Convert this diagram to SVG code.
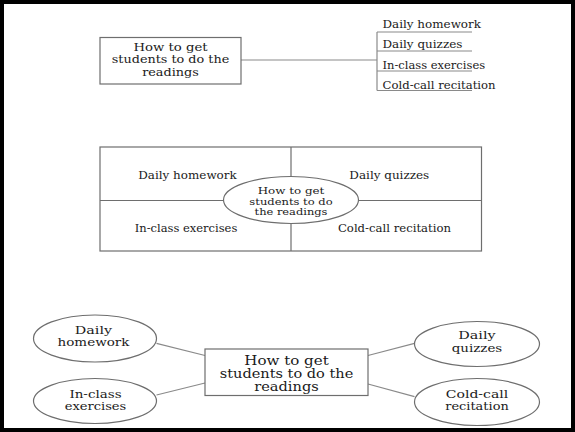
<svg xmlns="http://www.w3.org/2000/svg" width="575" height="432" viewBox="0 0 575 432">
<style>
.t{font-family:"DejaVu Serif","Liberation Serif",serif;fill:#1a1a1a;}
.m{text-anchor:middle;}
.s{fill:#fff;stroke:#6e6e6e;stroke-width:1.2;}
.ln{stroke:#8a8a8a;stroke-width:1.2;fill:none;}
.f13{font-size:11px;}
.fe{font-size:11px;}
.f115{font-size:10.5px;}
.fc{font-size:9.5px;}
.f15{font-size:12px;}
</style>
<rect x="2" y="2" width="571" height="428" fill="#fff" stroke="#000" stroke-width="4"/>

<!-- Section 1: tree -->
<g id="connectors1">
  <line class="ln" x1="241" y1="60" x2="377" y2="60"/>
  <line class="ln" x1="377" y1="32" x2="377" y2="90.5"/>
  <line class="ln" x1="377" y1="32" x2="472" y2="32"/>
  <line class="ln" x1="377" y1="51" x2="472" y2="51"/>
  <line class="ln" x1="377" y1="71" x2="472" y2="71"/>
  <line class="ln" x1="377" y1="90.5" x2="472" y2="90.5"/>
</g>
<g id="top-main">
  <rect class="s" x="100" y="37.5" width="141" height="46.5"/>
  <text class="t m f13" x="170.5" y="50.5" textLength="74.2" lengthAdjust="spacingAndGlyphs">How to get</text>
  <text class="t m f13" x="170.5" y="63" textLength="117.4" lengthAdjust="spacingAndGlyphs">students to do the</text>
  <text class="t m f13" x="170.5" y="75.5" textLength="56.6" lengthAdjust="spacingAndGlyphs">readings</text>
</g>
<g id="top-homework"><text class="t f115" x="382.5" y="27.5" textLength="98.5" lengthAdjust="spacingAndGlyphs">Daily homework</text></g>
<g id="top-quizzes"><text class="t f115" x="382.5" y="48" textLength="79.9" lengthAdjust="spacingAndGlyphs">Daily quizzes</text></g>
<g id="top-exercises"><text class="t f115" x="382.5" y="68.5" textLength="102.6" lengthAdjust="spacingAndGlyphs">In-class exercises</text></g>
<g id="top-recitation"><text class="t f115" x="382.5" y="89" textLength="113.1" lengthAdjust="spacingAndGlyphs">Cold-call recitation</text></g>

<!-- Section 2: quadrants -->
<g id="quad-frame">
  <rect x="100" y="147" width="381.5" height="104" fill="none" stroke="#6e6e6e" stroke-width="1.2"/>
  <line class="ln" x1="291" y1="147" x2="291" y2="251" style="stroke:#6e6e6e"/>
  <line class="ln" x1="100" y1="200.5" x2="481.5" y2="200.5" style="stroke:#6e6e6e"/>
</g>
<g id="quad-center">
  <ellipse class="s" cx="291" cy="200" rx="67.5" ry="23.5"/>
  <text class="t m fc" x="291" y="194" textLength="66.7" lengthAdjust="spacingAndGlyphs">How to get</text>
  <text class="t m fc" x="291" y="204.5" textLength="83.3" lengthAdjust="spacingAndGlyphs">students to do</text>
  <text class="t m fc" x="291" y="215" textLength="72.9" lengthAdjust="spacingAndGlyphs">the readings</text>
</g>
<g id="quad-homework"><text class="t m f115" x="187.5" y="178.5" textLength="98.5" lengthAdjust="spacingAndGlyphs">Daily homework</text></g>
<g id="quad-quizzes"><text class="t m f115" x="389.3" y="178.5" textLength="79.9" lengthAdjust="spacingAndGlyphs">Daily quizzes</text></g>
<g id="quad-exercises"><text class="t m f115" x="186" y="232" textLength="102.6" lengthAdjust="spacingAndGlyphs">In-class exercises</text></g>
<g id="quad-recitation"><text class="t m f115" x="394.5" y="232" textLength="113.1" lengthAdjust="spacingAndGlyphs">Cold-call recitation</text></g>

<!-- Section 3: spider -->
<g id="connectors3">
  <line class="ln" x1="156.5" y1="343.3" x2="205" y2="355.5"/>
  <line class="ln" x1="156.5" y1="395" x2="205" y2="383"/>
  <line class="ln" x1="368" y1="355.5" x2="414.5" y2="343.3"/>
  <line class="ln" x1="368" y1="384" x2="414.5" y2="396.7"/>
</g>
<g id="bottom-main">
  <rect class="s" x="205" y="349" width="163" height="46.5"/>
  <text class="t m f15" x="286.5" y="364.5" textLength="84.4" lengthAdjust="spacingAndGlyphs">How to get</text>
  <text class="t m f15" x="286.5" y="377.5" textLength="133.5" lengthAdjust="spacingAndGlyphs">students to do the</text>
  <text class="t m f15" x="286.5" y="390.5" textLength="64.4" lengthAdjust="spacingAndGlyphs">readings</text>
</g>
<g id="bottom-homework">
  <ellipse class="s" cx="95" cy="338.5" rx="61.5" ry="23.5"/>
  <text class="t m fe" x="93.5" y="334" textLength="37.3" lengthAdjust="spacingAndGlyphs">Daily</text>
  <text class="t m fe" x="93.5" y="346" textLength="71.9" lengthAdjust="spacingAndGlyphs">homework</text>
</g>
<g id="bottom-exercises">
  <ellipse class="s" cx="95" cy="401" rx="61.5" ry="22.5"/>
  <text class="t m fe" x="95.5" y="397.5" textLength="52.2" lengthAdjust="spacingAndGlyphs">In-class</text>
  <text class="t m fe" x="95.5" y="410" textLength="61.6" lengthAdjust="spacingAndGlyphs">exercises</text>
</g>
<g id="bottom-quizzes">
  <ellipse class="s" cx="477" cy="344" rx="62.5" ry="22.5"/>
  <text class="t m fe" x="477" y="339" textLength="37.3" lengthAdjust="spacingAndGlyphs">Daily</text>
  <text class="t m fe" x="477" y="351.5" textLength="50.4" lengthAdjust="spacingAndGlyphs">quizzes</text>
</g>
<g id="bottom-recitation">
  <ellipse class="s" cx="477" cy="402" rx="62.5" ry="23.5"/>
  <text class="t m fe" x="477" y="397.5" textLength="62.5" lengthAdjust="spacingAndGlyphs">Cold-call</text>
  <text class="t m fe" x="477" y="410" textLength="63.5" lengthAdjust="spacingAndGlyphs">recitation</text>
</g>
</svg>
